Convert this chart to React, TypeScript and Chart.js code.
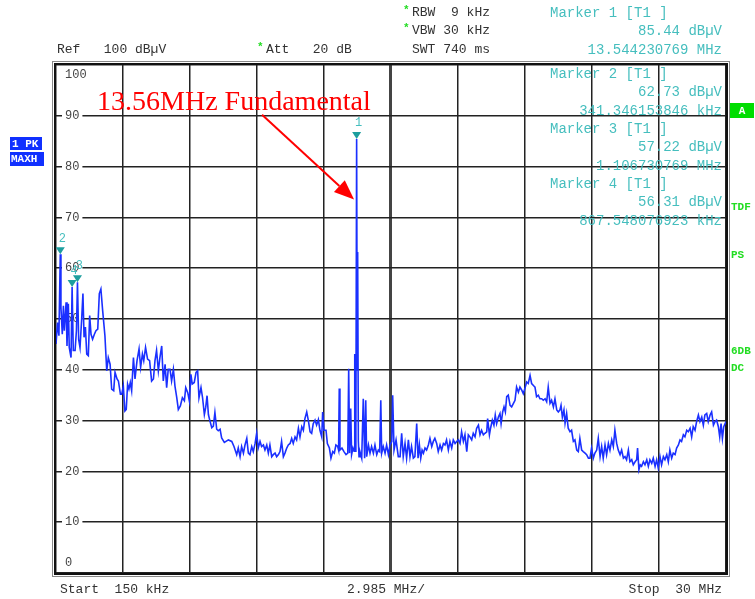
import React, { useEffect, useRef } from "react";
import { Chart, registerables } from "chart.js";
Chart.register(...registerables);

// Trace: frequency (MHz) and level (dBµV)
const freqMHz = [
  0.15, 0.22, 0.28, 0.341, 0.37, 0.43, 0.48, 0.52, 0.60, 0.64, 0.70, 0.74, 0.82, 0.8675, 0.92, 1.00, 1.06, 1.1067, 1.16, 1.22,
  1.29, 1.35, 1.40, 1.46, 1.52, 1.59, 1.65, 1.71, 1.78, 1.86, 1.93, 2.01, 2.08, 2.15, 2.23, 2.33, 2.41, 2.48, 2.56, 2.63,
  2.72, 2.78, 2.87, 2.93, 3.02, 3.08, 3.15, 3.22, 3.28, 3.34, 3.40, 3.46, 3.52, 3.60, 3.67, 3.76, 3.85, 3.92, 4.00, 4.06,
  4.14, 4.23, 4.32, 4.41, 4.49, 4.56, 4.63, 4.71, 4.78, 4.86, 4.93, 5.01, 5.08, 5.15, 5.23, 5.30, 5.38, 5.45, 5.53, 5.60,
  5.69, 5.78, 5.87, 5.93, 6.02, 6.09, 6.16, 6.22, 6.31, 6.39, 6.46, 6.52, 6.61, 6.68, 6.76, 6.82, 6.88, 6.94, 7.01, 7.09,
  7.16, 7.23, 7.31, 7.38, 7.46, 7.53, 7.65,
  7.83, 7.98, 8.08, 8.20, 8.27, 8.35, 8.42, 8.50, 8.57, 8.65, 8.72, 8.79, 8.87, 8.94, 9.02, 9.09, 9.16, 9.24, 9.31, 9.39,
  9.46, 9.54, 9.61, 9.68, 9.76, 9.83, 9.91, 9.98, 10.06, 10.13, 10.20, 10.28, 10.35, 10.43, 10.50, 10.58, 10.65, 10.72, 10.80, 10.87,
  10.95, 11.02, 11.10, 11.17, 11.24, 11.32, 11.39, 11.47, 11.54, 11.61, 11.69, 11.76, 11.84, 11.91, 11.99, 12.03, 12.09, 12.18, 12.24, 12.33,
  12.40, 12.48, 12.55, 12.62, 12.70, 12.74, 12.77, 12.80, 12.89, 12.98, 13.07, 13.15, 13.19, 13.23, 13.28, 13.32, 13.38, 13.43, 13.46, 13.49,
  13.51, 13.544, 13.57, 13.59, 13.62, 13.65, 13.69, 13.77, 13.84, 13.90, 13.95, 13.99, 14.07, 14.14, 14.21, 14.29, 14.36, 14.44, 14.51, 14.57,
  14.62, 14.66, 14.73, 14.81, 14.88, 14.96, 15.03, 15.11, 15.15, 15.21, 15.30, 15.40,
  15.48, 15.55, 15.62, 15.70, 15.77, 15.85, 15.92, 15.99, 16.07, 16.14, 16.22, 16.28, 16.34, 16.40, 16.46, 16.52, 16.59, 16.66, 16.74, 16.81,
  16.89, 16.96, 17.03, 17.11, 17.18, 17.26, 17.33, 17.41, 17.48, 17.55, 17.63, 17.70, 17.78, 17.85, 17.93, 18.00, 18.07, 18.15, 18.22, 18.30,
  18.37, 18.45, 18.52, 18.59, 18.67, 18.74, 18.82, 18.89, 18.97, 19.04, 19.11, 19.19, 19.26, 19.34, 19.38, 19.46, 19.51, 19.59, 19.66, 19.72,
  19.78, 19.86, 19.93, 19.98, 20.05, 20.11, 20.17, 20.23, 20.30, 20.38, 20.45, 20.53, 20.60, 20.67, 20.75, 20.82, 20.90, 20.97, 21.04, 21.12,
  21.19, 21.27, 21.34, 21.42, 21.49, 21.56, 21.64, 21.71, 21.79, 21.86, 21.94, 22.01, 22.08, 22.16, 22.23, 22.31, 22.38, 22.46, 22.53,
  22.60, 22.65, 22.71, 22.78, 22.83, 22.90, 22.97, 23.05, 23.12, 23.20, 23.27, 23.35, 23.42, 23.49, 23.57, 23.64, 23.72, 23.79, 23.87, 23.94,
  24.01, 24.09, 24.16, 24.24, 24.31, 24.39, 24.46, 24.53, 24.61, 24.68, 24.76, 24.83, 24.91, 24.98, 25.05, 25.13, 25.20, 25.28, 25.35, 25.43,
  25.50, 25.57, 25.65, 25.72, 25.80, 25.87, 25.95, 26.02, 26.06, 26.12, 26.18, 26.24, 26.32, 26.39, 26.47, 26.54, 26.61, 26.69, 26.76, 26.84,
  26.91, 26.98, 27.06, 27.13, 27.21, 27.28, 27.36, 27.43, 27.50, 27.58, 27.65, 27.73, 27.80, 27.88, 27.95, 28.02, 28.10, 28.17, 28.25, 28.32,
  28.40, 28.47, 28.54, 28.62, 28.69, 28.77, 28.84, 28.92, 28.99, 29.06, 29.14, 29.21, 29.29, 29.36, 29.44, 29.51, 29.58, 29.66, 29.72, 29.78,
  29.84, 29.90, 30.0,
];

const levelDbuV = [
  45.1, 49.3, 46.7, 62.73, 52.3, 47.0, 52.6, 47.7, 53.3, 44.7, 53.0, 44.4, 42.4, 56.31, 43.8, 43.8, 47.7, 57.22, 46.0, 44.4,
  49.7, 55.0, 46.4, 48.4, 43.1, 42.8, 50.7, 47.0, 46.0, 47.0, 47.7, 48.0, 55.0, 55.9, 51.6, 46.7, 39.8, 42.4, 41.1, 36.2,
  35.9, 39.5, 38.2, 37.8, 35.2, 35.2, 36.8, 31.9, 32.2, 37.2, 36.2, 37.5, 35.9, 42.4, 38.2, 41.8, 44.1, 40.5, 43.1, 41.8,
  44.4, 42.1, 41.8, 37.8, 38.2, 41.8, 43.8, 39.8, 42.4, 44.7, 37.8, 41.1, 36.5, 40.1, 40.1, 37.8, 40.1, 36.8, 34.5, 32.2,
  32.9, 34.5, 33.9, 36.5, 35.5, 33.9, 39.1, 37.2, 37.5, 39.5, 39.8, 34.5, 36.5, 34.5, 31.2, 32.6, 34.9, 31.2, 29.9, 28.6,
  28.9, 31.6, 28.3, 28.0, 28.3, 26.6, 25.7,
  26.2, 25.9, 24.9, 23.3, 24.6, 22.9, 24.9, 23.6, 25.2, 26.5, 23.6, 23.3, 24.9, 23.9, 25.5, 27.5, 24.6, 25.9, 24.9, 25.2,
  24.2, 25.2, 23.6, 25.2, 22.9, 23.3, 23.6, 22.9, 23.3, 23.9, 25.9, 22.9, 23.6, 24.6, 25.2, 25.5, 26.5, 25.5, 26.8, 26.2,
  28.5, 26.8, 28.8, 28.1, 30.4, 31.7, 30.1, 27.8, 27.5, 29.4, 30.1, 29.1, 30.2, 28.1, 26.8, 31.7, 28.1, 28.1, 25.5, 24.6,
  22.6, 23.9, 23.6, 25.2, 24.9, 24.2, 36.3, 24.2, 24.6, 23.9, 23.3, 23.6, 40.2, 23.6, 32.4, 23.3, 24.6, 24.0, 43.1, 24.0,
  28.0, 85.44, 40.0, 63.2, 26.0, 22.9, 23.9, 22.6, 34.3, 22.6, 34.0, 22.9, 25.2, 23.6, 24.9, 23.6, 25.2, 23.3, 24.2, 23.9,
  34.0, 23.6, 24.9, 23.6, 25.2, 23.3, 25.2, 25.9, 35.0, 24.2, 26.2, 22.9,
  22.9, 27.5, 22.9, 25.5, 22.6, 26.2, 22.9, 24.9, 22.6, 22.9, 29.4, 22.6, 25.2, 22.6, 24.2, 23.6, 24.6, 24.2, 25.2, 26.5,
  24.9, 25.9, 26.5, 25.5, 23.9, 25.2, 24.2, 25.5, 25.2, 26.2, 24.2, 25.9, 24.6, 26.2, 25.5, 25.9, 26.2, 25.5, 27.8, 25.9,
  27.2, 23.9, 27.2, 26.8, 26.2, 27.5, 26.8, 28.5, 29.1, 27.2, 28.1, 27.2, 27.5, 27.8, 30.4, 27.2, 28.5, 30.1, 29.1, 31.1,
  29.4, 30.7, 31.4, 29.4, 31.7, 32.7, 31.7, 34.7, 35.0, 33.0, 32.7, 33.4, 34.0, 36.6, 35.6, 36.6, 36.0, 35.3, 36.3, 37.6,
  37.3, 38.9, 37.3, 36.9, 36.6, 34.7, 35.0, 34.3, 34.3, 34.0, 34.3, 33.7, 36.6, 33.4, 34.0, 32.7, 34.3, 32.1, 31.7,
  32.1, 33.0, 30.7, 32.1, 29.5, 31.4, 28.5, 27.8, 28.1, 25.9, 26.2, 24.2, 23.9, 26.5, 24.2, 23.9, 23.6, 23.3, 22.6, 22.6,
  24.6, 22.6, 23.6, 24.2, 26.5, 22.9, 24.9, 22.6, 25.2, 23.3, 25.5, 24.2, 26.2, 24.9, 28.1, 25.5, 24.2, 23.3, 24.2, 22.6,
  22.9, 22.3, 24.2, 21.9, 22.3, 21.3, 21.9, 22.3, 24.6, 20.3, 21.3, 21.0, 21.9, 21.3, 22.3, 21.0, 22.3, 21.6, 22.6, 21.0,
  22.3, 20.7, 22.9, 21.3, 22.9, 22.3, 23.3, 21.9, 24.2, 22.6, 23.6, 23.3, 24.6, 25.2, 26.2, 25.9, 27.2, 26.8, 28.1, 27.8,
  28.5, 26.8, 28.8, 28.1, 29.8, 31.1, 29.8, 30.7, 29.1, 31.1, 31.4, 29.8, 31.1, 31.7, 29.1, 29.8, 30.1, 28.8, 26.8, 29.4,
  26.5, 28.8, 29.8,
];

// Axes
const yTickValues = [0, 10, 20, 30, 40, 50, 60, 70, 80, 90, 100];
const yTickLabels = ["0", "10", "20", "30", "40", "50", "60", "70", "80", "90", "100"];
const xGridMHz = [0.15, 3.135, 6.12, 9.105, 12.09, 15.075, 18.06, 21.045, 24.03, 27.015, 30];
const xStartMHz = 0.15;
const xStopMHz = 30;

// Markers
const markerNums = ["1", "2", "3", "4"];
const markerFreqMHz = [13.544230769, 0.341346153846, 1.106730769, 0.867548076923];
const markerLevel = [85.44, 62.73, 57.22, 56.31];
const markerLevelText = ["85.44 dBµV", "62.73 dBµV", "57.22 dBµV", "56.31 dBµV"];
const markerFreqText = ["13.544230769 MHz", "341.346153846 kHz", "1.106730769 MHz", "867.548076923 kHz"];

// Annotation
const annotationText = "13.56MHz Fundamental";
const annotationAt = { f: 1.98, db: 91.2 };
const arrowFrom = { f: 9.33, db: 90.2 };
const arrowTo = { f: 13.43, db: 73.5 };

const MONO = '"Liberation Mono", "DejaVu Sans Mono", monospace';
const TEAL = "#45bebe";
const GREEN = "#22dd22";

const overlay = {
  id: "overlay",
  beforeDatasetsDraw(chart: any) {
    const { ctx, chartArea: a, scales } = chart;
    const ys = scales.y;
    ctx.save();
    ctx.font = `12px ${MONO}`;
    ctx.textBaseline = "middle";
    ctx.textAlign = "left";
    yTickValues.forEach((v, i) => {
      const label = yTickLabels[i];
      let y = ys.getPixelForValue(v);
      if (v === 100) y += 10;
      else if (v === 0) y -= 10;
      const w = ctx.measureText(label).width;
      const x0 = a.left + 9;
      if (v !== 100 && v !== 0) {
        ctx.fillStyle = "#fff";
        ctx.fillRect(x0 - 3, y - 3, w + 6, 6);
      }
      ctx.fillStyle = "#444";
      ctx.fillText(label, x0, y);
    });
    // border
    ctx.strokeStyle = "#111";
    ctx.lineWidth = 2;
    ctx.strokeRect(a.left - 1, a.top - 1, a.right - a.left + 2, a.bottom - a.top + 2);
    ctx.strokeStyle = "#888";
    ctx.lineWidth = 1;
    ctx.strokeRect(a.left - 3.5, a.top - 3.5, a.right - a.left + 7, a.bottom - a.top + 7);
    ctx.restore();
  },
  afterDatasetsDraw(chart: any) {
    const { ctx, scales } = chart;
    const xs = scales.x;
    const ys = scales.y;
    ctx.save();
    // markers
    markerNums.forEach((n, i) => {
      const px = xs.getPixelForValue(markerFreqMHz[i]);
      const py = ys.getPixelForValue(markerLevel[i]);
      ctx.fillStyle = "#1d9e9e";
      ctx.beginPath();
      ctx.moveTo(px - 4.5, py - 7);
      ctx.lineTo(px + 4.5, py - 7);
      ctx.lineTo(px, py);
      ctx.closePath();
      ctx.fill();
      ctx.fillStyle = TEAL;
      ctx.font = `12px ${MONO}`;
      ctx.textAlign = "center";
      ctx.textBaseline = "middle";
      ctx.fillText(n, px + 2, py - 16);
    });
    // annotation text
    ctx.fillStyle = "#ff0000";
    ctx.font = '28px "Liberation Serif", "Times New Roman", serif';
    ctx.textAlign = "left";
    ctx.textBaseline = "alphabetic";
    ctx.fillText(annotationText, xs.getPixelForValue(annotationAt.f), ys.getPixelForValue(annotationAt.db));
    // arrow
    const x1 = xs.getPixelForValue(arrowFrom.f);
    const y1 = ys.getPixelForValue(arrowFrom.db);
    const x2 = xs.getPixelForValue(arrowTo.f);
    const y2 = ys.getPixelForValue(arrowTo.db);
    const ang = Math.atan2(y2 - y1, x2 - x1);
    const headLen = 20;
    const headW = 8;
    const bx = x2 - headLen * Math.cos(ang);
    const by = y2 - headLen * Math.sin(ang);
    ctx.strokeStyle = "#ff0000";
    ctx.lineWidth = 2;
    ctx.beginPath();
    ctx.moveTo(x1, y1);
    ctx.lineTo(bx, by);
    ctx.stroke();
    ctx.fillStyle = "#ff0000";
    ctx.beginPath();
    ctx.moveTo(x2, y2);
    ctx.lineTo(bx + headW * Math.sin(ang), by - headW * Math.cos(ang));
    ctx.lineTo(bx - headW * Math.sin(ang), by + headW * Math.cos(ang));
    ctx.closePath();
    ctx.fill();
    ctx.restore();
  },
  afterDraw(chart: any) {
    const { ctx } = chart;
    ctx.save();
    ctx.textBaseline = "middle";
    ctx.textAlign = "left";
    // header
    ctx.font = `13px ${MONO}`;
    ctx.fillStyle = "#333";
    ctx.fillText("Ref   100 dBµV", 57, 50);
    ctx.fillText("Att   20 dB", 266, 50);
    ctx.fillText("RBW  9 kHz", 412, 13);
    ctx.fillText("VBW 30 kHz", 412, 31);
    ctx.fillText("SWT 740 ms", 412, 50);
    ctx.fillStyle = GREEN;
    ctx.font = `bold 11px ${MONO}`;
    ctx.fillText("*", 257, 47);
    ctx.fillText("*", 403, 10);
    ctx.fillText("*", 403, 28);
    // bottom
    ctx.font = `13px ${MONO}`;
    ctx.fillStyle = "#333";
    ctx.fillText("Start  150 kHz", 60, 590);
    ctx.fillText("2.985 MHz/", 347, 590);
    ctx.textAlign = "right";
    ctx.fillText("Stop  30 MHz", 722, 590);
    // marker block
    ctx.font = `14px ${MONO}`;
    ctx.fillStyle = TEAL;
    const rows = [13, 74, 129, 184];
    markerNums.forEach((n, i) => {
      const r = rows[i];
      ctx.textAlign = "left";
      ctx.fillText(`Marker ${n} [T1 ]`, 550, r);
      ctx.textAlign = "right";
      ctx.fillText(markerLevelText[i], 722, r + 18.5);
      ctx.fillText(markerFreqText[i], 722, r + 37);
    });
    // left boxes
    ctx.fillStyle = "#1030ff";
    ctx.fillRect(10, 137, 32, 13);
    ctx.fillRect(10, 152, 34, 14);
    ctx.fillStyle = "#fff";
    ctx.font = `bold 11px ${MONO}`;
    ctx.textAlign = "left";
    ctx.fillText("1 PK", 12, 144);
    ctx.fillText("MAXH", 11, 159.5);
    // right indicators
    ctx.fillStyle = "#00dd00";
    ctx.fillRect(730, 103, 24, 15);
    ctx.fillStyle = "#fff";
    ctx.textAlign = "center";
    ctx.fillText("A", 742, 111);
    ctx.fillStyle = GREEN;
    ctx.textAlign = "left";
    ctx.fillText("TDF", 731, 207);
    ctx.fillText("PS", 731, 255);
    ctx.fillText("6DB", 731, 351);
    ctx.fillText("DC", 731, 368);
    ctx.restore();
  },
};

export default function App() {
  const ref = useRef<HTMLCanvasElement | null>(null);
  useEffect(() => {
    if (!ref.current) return;
    const data = freqMHz.map((f, i) => ({ x: f, y: levelDbuV[i] }));
    const chart = new Chart(ref.current, {
      type: "line",
      data: {
        datasets: [
          {
            data,
            borderColor: "#1a30ff",
            borderWidth: 1.6,
            pointRadius: 0,
            tension: 0,
            fill: false,
          },
        ],
      },
      options: {
        animation: false,
        responsive: false,
        devicePixelRatio: 1,
        layout: { padding: { left: 56, right: 29, top: 65, bottom: 26 } },
        plugins: { legend: { display: false }, tooltip: { enabled: false } },
        scales: {
          x: {
            type: "linear",
            min: xStartMHz,
            max: xStopMHz,
            afterBuildTicks: (s: any) => {
              s.ticks = xGridMHz.map((v) => ({ value: v }));
            },
            afterFit: (s: any) => {
              s.height = 0;
            },
            ticks: { display: false },
            border: { display: false },
            grid: {
              drawTicks: false,
              color: (c: any) => (c.index === 5 ? "#444" : "#222"),
              lineWidth: (c: any) => (c.index === 5 ? 3 : 1.5),
            },
          },
          y: {
            type: "linear",
            min: 0,
            max: 100,
            afterBuildTicks: (s: any) => {
              s.ticks = yTickValues.map((v) => ({ value: v }));
            },
            afterFit: (s: any) => {
              s.width = 0;
            },
            ticks: { display: false },
            border: { display: false },
            grid: { drawTicks: false, color: "#222", lineWidth: 1.5 },
          },
        },
      },
      plugins: [overlay],
    } as any);
    return () => chart.destroy();
  }, []);
  return (
    <div style={{ position: "absolute", left: 0, top: 0, width: 755, height: 599, background: "#fff" }}>
      <canvas ref={ref} width={755} height={599} style={{ display: "block" }} />
    </div>
  );
}
